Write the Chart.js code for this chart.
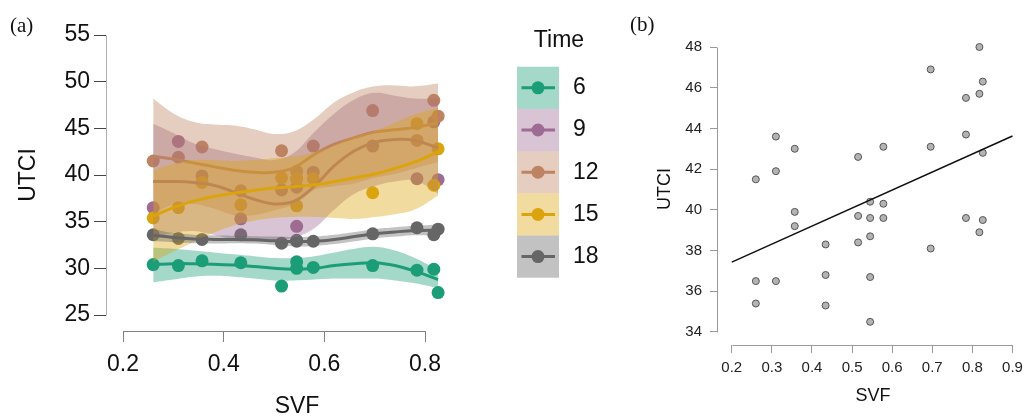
<!DOCTYPE html>
<html>
<head>
<meta charset="utf-8">
<script src="https://cdn.jsdelivr.net/npm/chart.js@4.4.0/dist/chart.umd.min.js"></script>
<style>
  html, body { margin: 0; padding: 0; background: #fff; }
  #wrap { position: relative; width: 1029px; height: 417px; overflow: hidden; }
  #chartA { position: absolute; left: 0; top: 0; }
  #chartB { position: absolute; left: 620px; top: 0; }
</style>
</head>
<body>
<div id="wrap">
  <canvas id="chartA" width="620" height="417"></canvas>
  <canvas id="chartB" width="409" height="417"></canvas>
</div>
<script>
/* global Chart */

const SANS = "'Liberation Sans', Arial, sans-serif";
const SERIF = "'Liberation Serif', 'Times New Roman', serif";

// ---- panel (a): measured points per site ----
const siteSVF = [0.26, 0.31, 0.357, 0.434, 0.515, 0.545, 0.545, 0.578, 0.696, 0.784, 0.8175, 0.826];
const utci6  = [30.4, 30.3, 30.8, 30.6, 28.1, 30.7, 30.0, 30.1, 30.3, 29.8, 29.9, 27.4];
const utci9  = [36.5, 43.6, 39.9, 35.3, 38.4, 38.7, 34.5, 40.3, 43.1, 39.6, 45.7, 39.5];
const utci12 = [41.5, 41.9, 43.0, 38.3, 42.6, 40.4, 39.6, 43.1, 46.9, 43.7, 48.0, 46.3];
const utci15 = [35.4, 36.5, 39.2, 36.8, 39.7, 39.6, 36.7, 39.6, 38.1, 45.5, 38.9, 42.8];
const utci18 = [33.6, 33.2, 33.1, 33.6, 32.7, 32.9, 33.0, 32.9, 33.7, 34.35, 33.6, 34.2];

// ---- panel (a): smoothed fits + bands ----
const smoothX = [0.26, 0.30, 0.34, 0.38, 0.42, 0.46, 0.50, 0.54, 0.58, 0.62, 0.66, 0.70, 0.74, 0.78, 0.826];
const fit6  = [30.4, 30.5, 30.5, 30.45, 30.35, 30.2, 30.0, 29.9, 30.0, 30.3, 30.5, 30.6, 30.3, 29.7, 28.8];
const lo6   = [28.5, 28.8, 29.1, 29.2, 29.1, 28.9, 28.7, 28.7, 28.8, 28.9, 28.9, 28.9, 28.7, 28.4, 27.9];
const hi6   = [32.2, 32.1, 31.9, 31.7, 31.5, 31.3, 31.1, 31.1, 31.3, 31.7, 32.1, 32.3, 31.9, 31.1, 29.8];
const fit9  = [39.3, 39.3, 39.2, 38.9, 38.2, 37.4, 36.9, 37.2, 38.8, 41.0, 42.6, 43.5, 43.8, 43.7, 42.9];
const lo9   = [33.3, 33.8, 34.0, 33.6, 33.1, 32.9, 33.0, 33.3, 34.3, 36.3, 38.0, 38.8, 39.3, 39.4, 38.0];
const hi9   = [45.5, 44.5, 43.4, 42.8, 42.3, 41.9, 41.6, 42.4, 44.6, 46.6, 48.1, 48.8, 48.5, 48.2, 48.2];
const fit12 = [42.0, 41.7, 41.3, 40.9, 40.5, 40.3, 40.3, 40.8, 42.2, 43.3, 44.0, 44.6, 44.85, 45.1, 45.6];
const lo12  = [35.8, 36.8, 36.9, 36.4, 35.7, 35.7, 36.2, 36.9, 38.4, 38.8, 39.1, 39.7, 40.1, 40.7, 41.4];
const hi12  = [48.2, 46.6, 45.7, 45.4, 45.3, 44.9, 44.4, 44.7, 46.0, 47.8, 48.9, 49.5, 49.6, 49.5, 49.8];
const fit15 = [35.6, 36.5, 37.2, 37.7, 38.05, 38.35, 38.6, 38.75, 38.95, 39.3, 39.7, 40.1, 40.7, 41.4, 42.5];
const lo15  = [30.7, 31.8, 32.8, 33.8, 34.6, 35.1, 35.4, 35.5, 35.5, 35.4, 35.3, 35.5, 35.8, 36.3, 37.8];
const hi15  = [40.5, 41.2, 41.6, 41.6, 41.5, 41.6, 41.8, 42.0, 42.4, 43.2, 44.1, 44.7, 45.6, 46.5, 47.2];
const fit18 = [33.55, 33.3, 33.15, 33.1, 33.1, 33.05, 32.95, 32.85, 32.9, 33.1, 33.4, 33.7, 33.9, 34.05, 34.1];
const lo18  = [32.9, 32.8, 32.7, 32.65, 32.7, 32.65, 32.5, 32.35, 32.4, 32.6, 32.9, 33.2, 33.4, 33.55, 33.5];
const hi18  = [34.2, 33.8, 33.6, 33.55, 33.5, 33.45, 33.4, 33.35, 33.4, 33.6, 33.9, 34.2, 34.4, 34.55, 34.7];

const timeLabels = ["6", "9", "12", "15", "18"];
const timeColors = ["#1b9e77", "#9e6b93", "#bd8362", "#dba40e", "#666666"];

const xTicksA = [0.2, 0.4, 0.6, 0.8];
const yTicksA = [25, 30, 35, 40, 45, 50, 55];

// ---- panel (b): all points + fitted line ----
const svfB = [0.26, 0.26, 0.26, 0.31, 0.31, 0.31, 0.357, 0.357, 0.357, 0.434, 0.434, 0.434,
  0.515, 0.515, 0.515, 0.545, 0.545, 0.545, 0.545, 0.545, 0.578, 0.578, 0.578,
  0.696, 0.696, 0.696, 0.784, 0.784, 0.784, 0.8175, 0.8175, 0.8175, 0.826, 0.826, 0.826];
const utciB = [41.5, 36.5, 35.4, 43.6, 41.9, 36.5, 43.0, 39.9, 39.2, 38.3, 36.8, 35.3,
  42.6, 39.7, 38.4, 40.4, 39.6, 38.7, 36.7, 34.5, 43.1, 40.3, 39.6,
  46.9, 43.1, 38.1, 45.5, 43.7, 39.6, 48.0, 45.7, 38.9, 46.3, 42.8, 39.5];
const fitLineX = [0.2, 0.9];
const fitLineY = [37.43, 43.63];

const xTicksB = [0.2, 0.3, 0.4, 0.5, 0.6, 0.7, 0.8, 0.9];
const yTicksB = [34, 36, 38, 40, 42, 44, 46, 48];

function alpha(hex, a) {
    const n = parseInt(hex.slice(1), 16);
    return `rgba(${n >> 16},${(n >> 8) & 255},${n & 255},${a})`;
}
const pts = (xs, ys) => xs.map((x, i) => ({ x, y: ys[i] }));

const seriesA = [
    { pts: utci6,  fit: fit6,  lo: lo6,  hi: hi6 },
    { pts: utci9,  fit: fit9,  lo: lo9,  hi: hi9 },
    { pts: utci12, fit: fit12, lo: lo12, hi: hi12 },
    { pts: utci15, fit: fit15, lo: lo15, hi: hi15 },
    { pts: utci18, fit: fit18, lo: lo18, hi: hi18 },
];

// points first, then each group's ribbon + line (ggplot layering)
const dsA = [];
seriesA.forEach((s, k) => {
    dsA.push({ data: pts(siteSVF, s.pts), showLine: false, pointRadius: 6.5, pointBorderWidth: 0,
        pointBackgroundColor: timeColors[k], borderColor: "rgba(0,0,0,0)" });
});
seriesA.forEach((s, k) => {
    const loIdx = dsA.length;
    dsA.push({ data: pts(smoothX, s.lo), borderColor: "rgba(0,0,0,0)", borderWidth: 0, pointRadius: 0, tension: 0.4, fill: false });
    dsA.push({ data: pts(smoothX, s.hi), borderColor: "rgba(0,0,0,0)", borderWidth: 0, pointRadius: 0, tension: 0.4,
        fill: { target: loIdx }, backgroundColor: alpha(timeColors[k], 0.4) });
    dsA.push({ data: pts(smoothX, s.fit), borderColor: timeColors[k], borderWidth: 3, pointRadius: 0, tension: 0.4, fill: false });
});
dsA.forEach((d, i) => { d.order = dsA.length - i; });

function fixTicks(values) {
    return (sc) => { sc.ticks = values.map(v => ({ value: v })); };
}

// capped axes, titles, panel letter, legend
const decorA = {
    id: "decorA",
    afterDraw(chart) {
        const { ctx, chartArea, scales: { x, y } } = chart;
        ctx.save();
        ctx.lineWidth = 1;
        ctx.strokeStyle = "#808080";
        ctx.beginPath();
        ctx.moveTo(Math.round(x.getPixelForValue(xTicksA[0])) + 0.5, chartArea.bottom + 0.5);
        ctx.lineTo(Math.round(x.getPixelForValue(xTicksA[xTicksA.length - 1])) + 0.5, chartArea.bottom + 0.5);
        ctx.stroke();
        ctx.strokeStyle = "#b0b0b0";
        ctx.beginPath();
        ctx.moveTo(chartArea.left + 0.5, Math.round(y.getPixelForValue(yTicksA[0])) + 0.5);
        ctx.lineTo(chartArea.left + 0.5, Math.round(y.getPixelForValue(yTicksA[yTicksA.length - 1])) + 0.5);
        ctx.stroke();

        ctx.fillStyle = "#111";
        ctx.textAlign = "center";
        ctx.textBaseline = "middle";
        ctx.font = `23px ${SANS}`;
        ctx.fillText("SVF", 297, 407);
        ctx.save();
        ctx.translate(29, 175);
        ctx.rotate(-Math.PI / 2);
        ctx.fillText("UTCI", 0, 0);
        ctx.restore();

        ctx.textAlign = "left";
        ctx.font = `21px ${SERIF}`;
        ctx.fillText("(a)", 10, 26);

        // legend
        ctx.font = `23px ${SANS}`;
        ctx.textAlign = "center";
        ctx.fillText("Time", 559, 41);
        const bx = 517, bw = 42, bh = 42.2, by = 66.7;
        timeLabels.forEach((lab, k) => {
            const top = by + k * bh, cy = top + bh / 2;
            ctx.fillStyle = alpha(timeColors[k], 0.4);
            ctx.fillRect(bx, top, bw, bh);
            ctx.strokeStyle = timeColors[k];
            ctx.lineWidth = 3;
            ctx.beginPath();
            ctx.moveTo(bx + 4.5, cy);
            ctx.lineTo(bx + bw - 4, cy);
            ctx.stroke();
            ctx.fillStyle = timeColors[k];
            ctx.beginPath();
            ctx.arc(bx + bw / 2, cy, 6.5, 0, Math.PI * 2);
            ctx.fill();
            ctx.fillStyle = "#111";
            ctx.textAlign = "left";
            ctx.fillText(lab, 573, cy);
        });
        ctx.restore();
    }
};

new Chart(document.getElementById("chartA"), {
    type: "line",
    data: { datasets: dsA },
    options: {
        responsive: false,
        animation: false,
        devicePixelRatio: 1,
        events: [],
        layout: { padding: { top: 30, right: 175, left: 0, bottom: 0 } },
        plugins: { legend: { display: false }, tooltip: { enabled: false } },
        scales: {
            x: {
                type: "linear", min: 0.1662, max: 0.8397,
                afterBuildTicks: fixTicks(xTicksA),
                afterFit: (sc) => { sc.height = 86; },
                grid: { drawOnChartArea: false, drawTicks: true, tickLength: 11, color: "#808080" },
                border: { display: false },
                ticks: { font: { family: SANS, size: 23 }, color: "#111", padding: 9, maxRotation: 0,
                    callback: (v) => v.toFixed(1) }
            },
            y: {
                min: 23.286, max: 55.536,
                afterBuildTicks: fixTicks(yTicksA),
                afterFit: (sc) => { sc.width = 106; },
                grid: { drawOnChartArea: false, drawTicks: true, tickLength: 12, color: "#444" },
                border: { display: false },
                ticks: { font: { family: SANS, size: 23 }, color: "#111", padding: 4 }
            }
        }
    },
    plugins: [decorA]
});

// ---- panel (b) ----
const decorB = {
    id: "decorB",
    afterDraw(chart) {
        const { ctx, chartArea, scales: { x, y } } = chart;
        ctx.save();
        ctx.lineWidth = 1;
        ctx.strokeStyle = "#999";
        ctx.beginPath();
        ctx.moveTo(Math.round(x.getPixelForValue(xTicksB[0])) + 0.5, chartArea.bottom + 0.5);
        ctx.lineTo(Math.round(x.getPixelForValue(xTicksB[xTicksB.length - 1])) + 0.5, chartArea.bottom + 0.5);
        ctx.moveTo(chartArea.left + 0.5, Math.round(y.getPixelForValue(yTicksB[0])) + 0.5);
        ctx.lineTo(chartArea.left + 0.5, Math.round(y.getPixelForValue(yTicksB[yTicksB.length - 1])) + 0.5);
        ctx.stroke();

        ctx.fillStyle = "#111";
        ctx.textAlign = "center";
        ctx.textBaseline = "middle";
        ctx.font = `18px ${SANS}`;
        ctx.fillText("SVF", 253, 396);
        ctx.save();
        ctx.translate(45, 189);
        ctx.rotate(-Math.PI / 2);
        ctx.fillText("UTCI", 0, 0);
        ctx.restore();

        ctx.textAlign = "left";
        ctx.font = `21px ${SERIF}`;
        ctx.fillText("(b)", 10, 25);
        ctx.restore();
    }
};

new Chart(document.getElementById("chartB"), {
    type: "line",
    data: {
        datasets: [
            { data: pts(fitLineX, fitLineY), borderColor: "#111", borderWidth: 1.5, pointRadius: 0, fill: false, order: 1 },
            { data: pts(svfB, utciB), showLine: false, pointRadius: 3.5, pointBackgroundColor: "#b3b3b3",
              pointBorderColor: "#555", pointBorderWidth: 1, borderColor: "rgba(0,0,0,0)", order: 2 }
        ]
    },
    options: {
        responsive: false,
        animation: false,
        devicePixelRatio: 1,
        events: [],
        layout: { padding: { top: 40, right: 9, left: 0, bottom: 0 } },
        plugins: { legend: { display: false }, tooltip: { enabled: false } },
        scales: {
            x: {
                type: "linear", min: 0.16314, max: 0.90762,
                afterBuildTicks: fixTicks(xTicksB),
                afterFit: (sc) => { sc.height = 72; },
                grid: { drawOnChartArea: false, drawTicks: true, tickLength: 8, color: "#999" },
                border: { display: false },
                ticks: { font: { family: SANS, size: 15 }, color: "#222", padding: 6, maxRotation: 0,
                    callback: (v) => v.toFixed(1) }
            },
            y: {
                min: 33.361, max: 48.344,
                afterBuildTicks: fixTicks(yTicksB),
                afterFit: (sc) => { sc.width = 97; },
                grid: { drawOnChartArea: false, drawTicks: true, tickLength: 7, color: "#999" },
                border: { display: false },
                ticks: { font: { family: SANS, size: 15 }, color: "#222", padding: 8 }
            }
        }
    },
    plugins: [decorB]
});
</script>
</body>
</html>
